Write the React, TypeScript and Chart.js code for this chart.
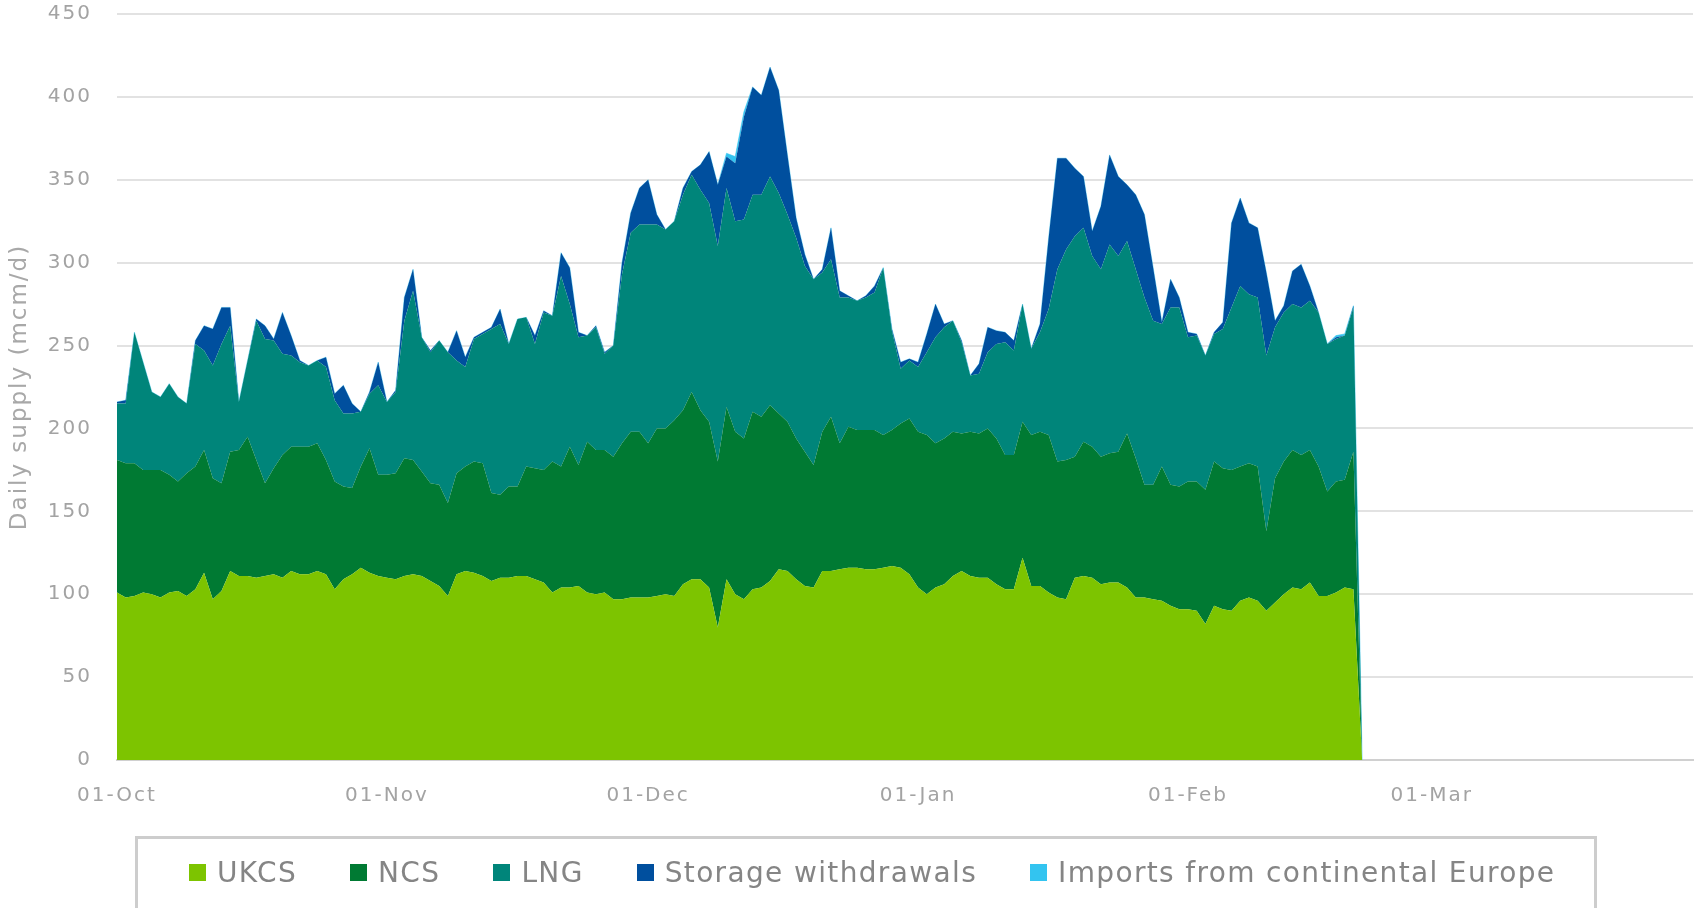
import React, { useEffect, useRef } from "react";
import { Chart, registerables } from "chart.js";

Chart.register(...registerables);

// ---- categories ----
const monthNames = ["Oct", "Nov", "Dec", "Jan", "Feb", "Mar"];
const monthLengths = [31, 30, 31, 31, 28, 31];
const dayLabels: string[] = [];
monthNames.forEach((m, i) => {
  for (let d = 1; d <= monthLengths[i]; d++) {
    dayLabels.push(`${d < 10 ? "0" + d : d}-${m}`);
  }
});

// ---- series values (mcm/d), one per day from 01-Oct ----
const ukcs = [
  101, 98, 99, 101, 100, 98, 101, 102, 99, 103,
  113, 97, 102, 114, 111, 111, 110, 111, 112, 110,
  114, 112, 112, 114, 112, 103, 109, 112, 116, 113,
  111, 110, 109, 111, 112, 111, 108, 105, 99, 112,
  114, 113, 111, 108, 110, 110, 111, 111, 109, 107,
  101, 104, 104, 105, 101, 100, 101, 97, 97, 98,
  98, 98, 99, 100, 99, 106, 109, 109, 104, 80,
  109, 100, 97, 103, 104, 108, 115, 114, 109, 105,
  104, 114, 114, 115, 116, 116, 115, 115, 116, 117,
  116, 112, 104, 100, 104, 106, 111, 114, 111, 110,
  110, 106, 103, 103, 122, 105, 105, 101, 98, 97,
  110, 111, 110, 106, 107, 107, 104, 98, 98, 97,
  96, 93, 91, 91, 90, 82, 93, 91, 90, 96,
  98, 96, 90, 95, 100, 104, 103, 107, 99, 99,
  101, 104, 103, 0,
];
const ncs = [
  80, 81, 80, 74, 75, 77, 71, 66, 74, 74,
  74, 73, 65, 72, 76, 84, 71, 56, 64, 74,
  75, 77, 77, 77, 69, 65, 56, 52, 61, 75,
  61, 62, 64, 71, 69, 63, 59, 61, 56, 61,
  63, 67, 68, 53, 50, 55, 54, 66, 67, 68,
  79, 73, 85, 73, 91, 87, 86, 86, 94, 100,
  100, 93, 101, 100, 106, 105, 113, 102, 100, 100,
  104, 98, 97, 107, 103, 106, 94, 90, 85, 81,
  74, 84, 93, 76, 85, 83, 84, 84, 80, 82,
  87, 94, 94, 96, 87, 88, 87, 83, 87, 87,
  90, 88, 81, 81, 82, 91, 93, 95, 82, 84,
  73, 81, 79, 77, 78, 79, 93, 84, 68, 69,
  81, 73, 74, 77, 78, 81, 87, 85, 85, 81,
  81, 81, 48, 75, 80, 83, 81, 80, 78, 63,
  67, 65, 83, 0,
];
const lng = [
  34, 36, 79, 65, 47, 44, 55, 51, 42, 74,
  60, 68, 84, 76, 29, 46, 84, 87, 77, 61,
  55, 51, 49, 50, 56, 49, 44, 45, 33, 33,
  54, 44, 49, 83, 102, 81, 79, 87, 91, 68,
  60, 74, 78, 99, 103, 86, 101, 90, 75, 95,
  88, 115, 86, 77, 64, 74, 58, 67, 102, 120,
  125, 132, 123, 120, 120, 130, 131, 133, 132, 130,
  132, 127, 132, 131, 134, 138, 133, 125, 121, 112,
  112, 96, 95, 88, 78, 78, 80, 83, 101, 60,
  33, 35, 39, 50, 64, 67, 67, 55, 34, 36,
  46, 57, 68, 63, 71, 52, 60, 76, 116, 127,
  133, 129, 115, 113, 126, 118, 116, 114, 113, 99,
  86, 107, 108, 87, 88, 81, 77, 84, 98, 109,
  102, 102, 106, 91, 90, 88, 89, 90, 93, 89,
  86, 87, 87, 0,
];
const storage = [
  1, 2, 0, 0, 0, 0, 0, 0, 0, 2,
  15, 22, 22, 11, 0, 0, 1, 8, 1, 25,
  12, 1, 0, 0, 6, 4, 17, 6, 0, 1,
  14, 0, 1, 14, 13, 0, 1, 0, 0, 18,
  6, 1, 1, 1, 9, 0, 0, 0, 5, 1,
  0, 14, 22, 3, 0, 1, 1, 0, 7, 12,
  22, 27, 6, 0, 0, 4, 2, 15, 31, 37,
  19, 35, 62, 65, 60, 66, 62, 36, 12, 7,
  0, 2, 19, 4, 1, 0, 1, 4, 0, 1,
  4, 1, 3, 11, 20, 2, 0, 1, 0, 6,
  15, 8, 6, 6, 0, 0, 5, 43, 67, 55,
  41, 31, 15, 38, 54, 48, 34, 45, 50, 32,
  1, 17, 6, 3, 1, 0, 1, 4, 51, 53,
  43, 42, 50, 4, 4, 20, 26, 9, 0, 0,
  1, 0, 1, 0,
];
const imports = [
  0, 0, 0, 0, 0, 0, 0, 0, 0, 0,
  0, 0, 0, 0, 0, 0, 0, 0, 0, 0,
  0, 0, 0, 0, 0, 0, 0, 0, 0, 0,
  0, 0, 0, 0, 0, 0, 0, 0, 0, 0,
  0, 0, 0, 0, 0, 0, 0, 0, 0, 0,
  0, 0, 0, 0, 0, 0, 0, 0, 0, 0,
  0, 0, 0, 0, 0, 0, 0, 0, 0, 0,
  2, 4, 3, 0, 0, 0, 0, 0, 0, 0,
  0, 0, 0, 0, 0, 0, 0, 0, 0, 0,
  0, 0, 0, 0, 0, 0, 0, 0, 0, 0,
  0, 0, 0, 0, 0, 0, 0, 0, 0, 0,
  0, 0, 0, 0, 0, 0, 0, 0, 0, 0,
  0, 0, 0, 0, 0, 0, 0, 0, 0, 0,
  0, 0, 0, 0, 0, 0, 0, 0, 0, 0,
  1, 1, 0, 0,
];

const seriesNames = ["UKCS", "NCS", "LNG", "Storage withdrawals", "Imports from continental Europe"];
const seriesData = [ukcs, ncs, lng, storage, imports];
const seriesColors = ["#7dc400", "#007a33", "#00857a", "#004f9e", "#33c4f0"];
const yAxisTitle = "Daily supply (mcm/d)";

const spacingPlugin = {
  id: "letterSpacing",
  beforeUpdate(chart: any) {
    chart.ctx.letterSpacing = "2px";
  },
  beforeDraw(chart: any) {
    chart.ctx.letterSpacing = "2px";
  },
};

export default function App() {
  const canvasRef = useRef<HTMLCanvasElement | null>(null);

  useEffect(() => {
    if (!canvasRef.current) return;
    const chart = new Chart(canvasRef.current, {
      type: "line",
      data: {
        labels: dayLabels,
        datasets: seriesNames.map((name, i) => ({
          label: name,
          data: seriesData[i],
          backgroundColor: seriesColors[i],
          borderColor: i === 4 ? "rgba(51,196,240,0.55)" : seriesColors[i],
          borderWidth: i === 4 ? 1 : 0,
          pointRadius: 0,
          tension: 0,
          fill: i === 0 ? "origin" : "-1",
        })),
      },
      options: {
        animation: false,
        responsive: false,
        maintainAspectRatio: false,
        layout: { padding: { left: 0, right: 2, top: 14, bottom: 0 } },
        plugins: {
          legend: { display: false },
          tooltip: { enabled: false },
        },
        scales: {
          x: {
            type: "category",
            grid: { display: false, drawTicks: false },
            border: { display: true, color: "#d0d0d0", width: 2 },
            ticks: {
              autoSkip: false,
              maxRotation: 0,
              minRotation: 0,
              padding: 24,
              color: "#a3a3a3",
              font: { family: "'DejaVu Sans'", size: 20 },
              callback: (_v: any, i: number) => (dayLabels[i].startsWith("01-") ? dayLabels[i] : ""),
            },
            afterFit: (s: any) => {
              s.height = 148;
              s.paddingLeft = 0;
              s.paddingRight = 0;
            },
          },
          y: {
            stacked: true,
            min: 0,
            max: 450,
            grid: { color: "#e2e2e2", lineWidth: 2, drawTicks: false },
            border: { display: false },
            ticks: {
              stepSize: 50,
              padding: 25,
              color: "#a3a3a3",
              font: { family: "'DejaVu Sans'", size: 20 },
            },
            title: {
              display: true,
              text: yAxisTitle,
              color: "#a8a8a8",
              font: { family: "'DejaVu Sans'", size: 23 },
              padding: { top: 6, bottom: 0 },
            },
            afterFit: (s: any) => {
              s.width = 117;
              s.paddingTop = 0;
              s.paddingBottom = 0;
            },
          },
        },
      },
      plugins: [spacingPlugin],
    } as any);
    return () => chart.destroy();
  }, []);

  return (
    <div
      style={{
        position: "absolute",
        left: 0,
        top: 0,
        width: 1695,
        height: 908,
        overflow: "hidden",
        background: "#ffffff",
      }}
    >
      <canvas ref={canvasRef} width={1695} height={908} style={{ display: "block" }} />
      <div
        style={{
          position: "absolute",
          left: 135,
          top: 836,
          width: 1462,
          height: 100,
          boxSizing: "border-box",
          border: "3px solid #cdcdcd",
          display: "flex",
          alignItems: "flex-start",
          paddingLeft: 51,
          paddingTop: 14,
          fontFamily: "'DejaVu Sans', sans-serif",
          fontSize: 28,
          letterSpacing: "1.35px",
          color: "#858585",
          gap: 53,
        }}
      >
        {seriesNames.map((name, i) => (
          <div key={name} style={{ display: "flex", alignItems: "center", height: 38 }}>
            <span
              style={{
                display: "inline-block",
                width: 17,
                height: 17,
                background: seriesColors[i],
                marginRight: 11,
              }}
            />
            <span style={{ whiteSpace: "nowrap" }}>{name}</span>
          </div>
        ))}
      </div>
    </div>
  );
}
